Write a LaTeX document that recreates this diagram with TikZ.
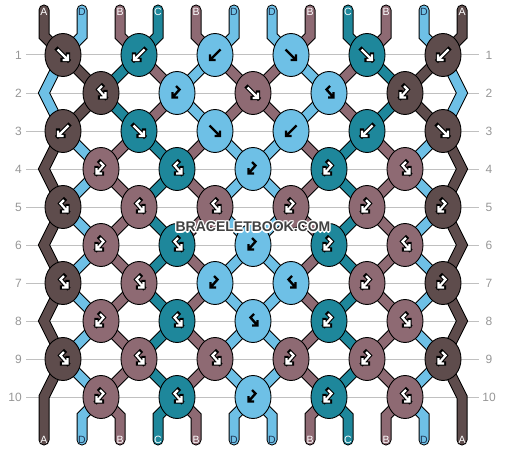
\documentclass[tikz,border=0pt]{standalone}
\usepackage{fontspec}
\setmainfont{Liberation Sans}
\usetikzlibrary{shapes.geometric}
\pgfdeclarelayer{grid}
\pgfdeclarelayer{threads}
\pgfsetlayers{grid,threads,main}
\definecolor{cA}{RGB}{94,76,76}
\definecolor{cB}{RGB}{142,106,115}
\definecolor{cC}{RGB}{30,135,155}
\definecolor{cD}{RGB}{110,192,230}
\definecolor{gridc}{RGB}{192,192,192}
\definecolor{numc}{RGB}{150,150,150}
\definecolor{wmc}{RGB}{64,64,64}
\definecolor{dlbl}{RGB}{30,50,80}
\tikzset{
  knot/.style={ellipse, draw=black, line width=0.9pt, minimum width=36pt, minimum height=43pt, inner sep=0pt, outer sep=0pt},
  aout/.style={draw=black, line width=4.4pt, line join=miter, line cap=rect},
  ain/.style={draw=white, line width=2.2pt, line join=miter, line cap=butt},
  ablk/.style={draw=black, line width=2.4pt, line join=miter, line cap=butt},
  tho/.style={draw=black, line width=11pt, line cap=round, line join=miter},
  thi/.style={draw=#1, line width=9pt, line cap=round, line join=miter},
  gridline/.style={draw=gridc, line width=1pt},
  rownum/.style={text=numc, font=\fontsize{12}{14}\selectfont, inner sep=0pt},
  lbl/.style={font=\fontsize{10.5}{12}\selectfont, inner sep=0pt},
  wmfont/.style={font=\bfseries\fontsize{14}{16}\selectfont, inner sep=0pt},
}
\newcommand\glF[1]{\draw[#1] (-5.5,-5.5)--(5,5) (5,-0.5)--(5,5)--(-0.5,5);}
\newcommand\glB[1]{\draw[#1] (5.5,-5.5)--(-5,5) (-5,-0.5)--(-5,5)--(0.5,5);}
\newcommand\glFB[1]{\draw[#1] (1,-7)--(-2.5,-3.5)--(4.5,4.5) (4.5,-1)--(4.5,4.5)--(-1,4.5);}
\newcommand\glBF[1]{\draw[#1] (-1,-7)--(2.5,-3.5)--(-4.5,4.5) (-4.5,-1)--(-4.5,4.5)--(1,4.5);}
\newcommand\kn[6]{%
  \node[knot, fill=#4] (#1) at (#2,#3) {};
  \begin{scope}[shift={(#2,#3)}]
    \ifx d#6\csname gl#5\endcsname{aout}\csname gl#5\endcsname{ain}\else\csname gl#5\endcsname{ablk}\fi
  \end{scope}}
\newcommand\thr[2]{\draw[tho] #2; \draw[thi=#1] #2;}
\begin{document}
\begin{tikzpicture}[x=1pt,y=-1pt]
\useasboundingbox (0,0) rectangle (506,452);
% grid lines and row numbers
\begin{pgfonlayer}{grid}
\foreach \r in {1,...,10} {
  \draw[gridline] (26,{17+38*\r}) -- (479,{17+38*\r});
}
\end{pgfonlayer}
\foreach \r in {1,...,10} {
  \node[rownum, anchor=east] (nl\r) at (22,{17+38*\r}) {\r};
  \node[rownum] (nr\r) at (489,{17+38*\r}) {\r};
}
% string end coordinates
\foreach \p in {0,...,11} {
  \coordinate (T\p) at ({44+38*\p},10);
  \coordinate (U\p) at ({44+38*\p},36);
  \coordinate (V\p) at ({44+38*\p},416);
  \coordinate (B\p) at ({44+38*\p},440);
}
\foreach \r in {2,4,...,10} {
  \coordinate (eL\r) at (44,{17+38*\r});
  \coordinate (eR\r) at (462,{17+38*\r});
}
% knots
\kn{k1-1}{63}{55}{cA}{F}{d}
\kn{k1-2}{139}{55}{cC}{B}{d}
\kn{k1-3}{215}{55}{cD}{B}{l}
\kn{k1-4}{291}{55}{cD}{F}{l}
\kn{k1-5}{367}{55}{cC}{F}{d}
\kn{k1-6}{443}{55}{cA}{B}{d}
\kn{k2-1}{101}{93}{cA}{FB}{d}
\kn{k2-2}{177}{93}{cD}{BF}{l}
\kn{k2-3}{253}{93}{cB}{F}{d}
\kn{k2-4}{329}{93}{cD}{FB}{l}
\kn{k2-5}{405}{93}{cA}{BF}{d}
\kn{k3-1}{63}{131}{cA}{B}{d}
\kn{k3-2}{139}{131}{cC}{F}{d}
\kn{k3-3}{215}{131}{cD}{F}{l}
\kn{k3-4}{291}{131}{cD}{B}{l}
\kn{k3-5}{367}{131}{cC}{B}{d}
\kn{k3-6}{443}{131}{cA}{F}{d}
\kn{k4-1}{101}{169}{cB}{BF}{d}
\kn{k4-2}{177}{169}{cC}{FB}{d}
\kn{k4-3}{253}{169}{cD}{BF}{l}
\kn{k4-4}{329}{169}{cC}{BF}{d}
\kn{k4-5}{405}{169}{cB}{FB}{d}
\kn{k5-1}{63}{207}{cA}{FB}{d}
\kn{k5-2}{139}{207}{cB}{FB}{d}
\kn{k5-3}{215}{207}{cB}{FB}{d}
\kn{k5-4}{291}{207}{cB}{BF}{d}
\kn{k5-5}{367}{207}{cB}{BF}{d}
\kn{k5-6}{443}{207}{cA}{BF}{d}
\kn{k6-1}{101}{245}{cB}{BF}{d}
\kn{k6-2}{177}{245}{cC}{FB}{d}
\kn{k6-3}{253}{245}{cD}{BF}{l}
\kn{k6-4}{329}{245}{cC}{BF}{d}
\kn{k6-5}{405}{245}{cB}{FB}{d}
\kn{k7-1}{63}{283}{cA}{FB}{d}
\kn{k7-2}{139}{283}{cB}{FB}{d}
\kn{k7-3}{215}{283}{cD}{BF}{l}
\kn{k7-4}{291}{283}{cD}{FB}{l}
\kn{k7-5}{367}{283}{cB}{BF}{d}
\kn{k7-6}{443}{283}{cA}{BF}{d}
\kn{k8-1}{101}{321}{cB}{BF}{d}
\kn{k8-2}{177}{321}{cC}{FB}{d}
\kn{k8-3}{253}{321}{cD}{FB}{l}
\kn{k8-4}{329}{321}{cC}{BF}{d}
\kn{k8-5}{405}{321}{cB}{FB}{d}
\kn{k9-1}{63}{359}{cA}{FB}{d}
\kn{k9-2}{139}{359}{cB}{FB}{d}
\kn{k9-3}{215}{359}{cB}{FB}{d}
\kn{k9-4}{291}{359}{cB}{BF}{d}
\kn{k9-5}{367}{359}{cB}{BF}{d}
\kn{k9-6}{443}{359}{cA}{BF}{d}
\kn{k10-1}{101}{397}{cB}{BF}{d}
\kn{k10-2}{177}{397}{cC}{FB}{d}
\kn{k10-3}{253}{397}{cD}{BF}{l}
\kn{k10-4}{329}{397}{cC}{BF}{d}
\kn{k10-5}{405}{397}{cB}{FB}{d}
% threads
\begin{pgfonlayer}{threads}
\thr{cA}{(T0)--(U0)--(k1-1.center)--(k2-1.center)--(k3-1.center)--(eL4)--(k5-1.center)--(eL6)--(k7-1.center)--(eL8)--(k9-1.center)--(eL10)--(B0)}
\thr{cD}{(T1)--(U1)--(k1-1.center)--(eL2)--(k3-1.center)--(k4-1.center)--(k5-1.center)--(k6-1.center)--(k7-1.center)--(k8-1.center)--(k9-1.center)--(k10-1.center)--(V1)--(B1)}
\thr{cB}{(T2)--(U2)--(k1-2.center)--(k2-2.center)--(k3-2.center)--(k4-1.center)--(k5-2.center)--(k6-1.center)--(k7-2.center)--(k8-1.center)--(k9-2.center)--(k10-1.center)--(V2)--(B2)}
\thr{cC}{(T3)--(U3)--(k1-2.center)--(k2-1.center)--(k3-2.center)--(k4-2.center)--(k5-2.center)--(k6-2.center)--(k7-2.center)--(k8-2.center)--(k9-2.center)--(k10-2.center)--(V3)--(B3)}
\thr{cB}{(T4)--(U4)--(k1-3.center)--(k2-3.center)--(k3-4.center)--(k4-4.center)--(k5-4.center)--(k6-4.center)--(k7-4.center)--(k8-4.center)--(k9-4.center)--(k10-4.center)--(V7)--(B7)}
\thr{cD}{(T5)--(U5)--(k1-3.center)--(k2-2.center)--(k3-3.center)--(k4-3.center)--(k5-3.center)--(k6-3.center)--(k7-3.center)--(k8-3.center)--(k9-3.center)--(k10-3.center)--(V5)--(B5)}
\thr{cD}{(T6)--(U6)--(k1-4.center)--(k2-4.center)--(k3-4.center)--(k4-3.center)--(k5-4.center)--(k6-3.center)--(k7-4.center)--(k8-3.center)--(k9-4.center)--(k10-3.center)--(V6)--(B6)}
\thr{cB}{(T7)--(U7)--(k1-4.center)--(k2-3.center)--(k3-3.center)--(k4-2.center)--(k5-3.center)--(k6-2.center)--(k7-3.center)--(k8-2.center)--(k9-3.center)--(k10-2.center)--(V4)--(B4)}
\thr{cC}{(T8)--(U8)--(k1-5.center)--(k2-5.center)--(k3-5.center)--(k4-4.center)--(k5-5.center)--(k6-4.center)--(k7-5.center)--(k8-4.center)--(k9-5.center)--(k10-4.center)--(V8)--(B8)}
\thr{cB}{(T9)--(U9)--(k1-5.center)--(k2-4.center)--(k3-5.center)--(k4-5.center)--(k5-5.center)--(k6-5.center)--(k7-5.center)--(k8-5.center)--(k9-5.center)--(k10-5.center)--(V9)--(B9)}
\thr{cD}{(T10)--(U10)--(k1-6.center)--(eR2)--(k3-6.center)--(k4-5.center)--(k5-6.center)--(k6-5.center)--(k7-6.center)--(k8-5.center)--(k9-6.center)--(k10-5.center)--(V10)--(B10)}
\thr{cA}{(T11)--(U11)--(k1-6.center)--(k2-5.center)--(k3-6.center)--(eR4)--(k5-6.center)--(eR6)--(k7-6.center)--(eR8)--(k9-6.center)--(eR10)--(B11)}
\end{pgfonlayer}
% string labels
\node[lbl, text=white] (ta0) at (44,12) {A};
\node[lbl, text=dlbl] (ta1) at (82,12) {D};
\node[lbl, text=white] (ta2) at (120,12) {B};
\node[lbl, text=white] (ta3) at (158,12) {C};
\node[lbl, text=white] (ta4) at (196,12) {B};
\node[lbl, text=dlbl] (ta5) at (234,12) {D};
\node[lbl, text=dlbl] (ta6) at (272,12) {D};
\node[lbl, text=white] (ta7) at (310,12) {B};
\node[lbl, text=white] (ta8) at (348,12) {C};
\node[lbl, text=white] (ta9) at (386,12) {B};
\node[lbl, text=dlbl] (ta10) at (424,12) {D};
\node[lbl, text=white] (ta11) at (462,12) {A};
\node[lbl, text=white] (ba0) at (44,440) {A};
\node[lbl, text=dlbl] (ba1) at (82,440) {D};
\node[lbl, text=white] (ba2) at (120,440) {B};
\node[lbl, text=white] (ba3) at (158,440) {C};
\node[lbl, text=white] (ba4) at (196,440) {B};
\node[lbl, text=dlbl] (ba5) at (234,440) {D};
\node[lbl, text=dlbl] (ba6) at (272,440) {D};
\node[lbl, text=white] (ba7) at (310,440) {B};
\node[lbl, text=white] (ba8) at (348,440) {C};
\node[lbl, text=white] (ba9) at (386,440) {B};
\node[lbl, text=dlbl] (ba10) at (424,440) {D};
\node[lbl, text=white] (ba11) at (462,440) {A};
% watermark with white halo
\foreach \dx/\dy [count=\i] in {-1.2/0,1.2/0,0/-1.2,0/1.2,-1/-1,1/-1,-1/1,1/1} {
  \node[wmfont, text=white] (wmh\i) at ({253+\dx},{227+\dy}) {BRACELETBOOK.COM};
}
\node[wmfont, text=wmc] (wm) at (253,227) {BRACELETBOOK.COM};
\end{tikzpicture}
\end{document}
